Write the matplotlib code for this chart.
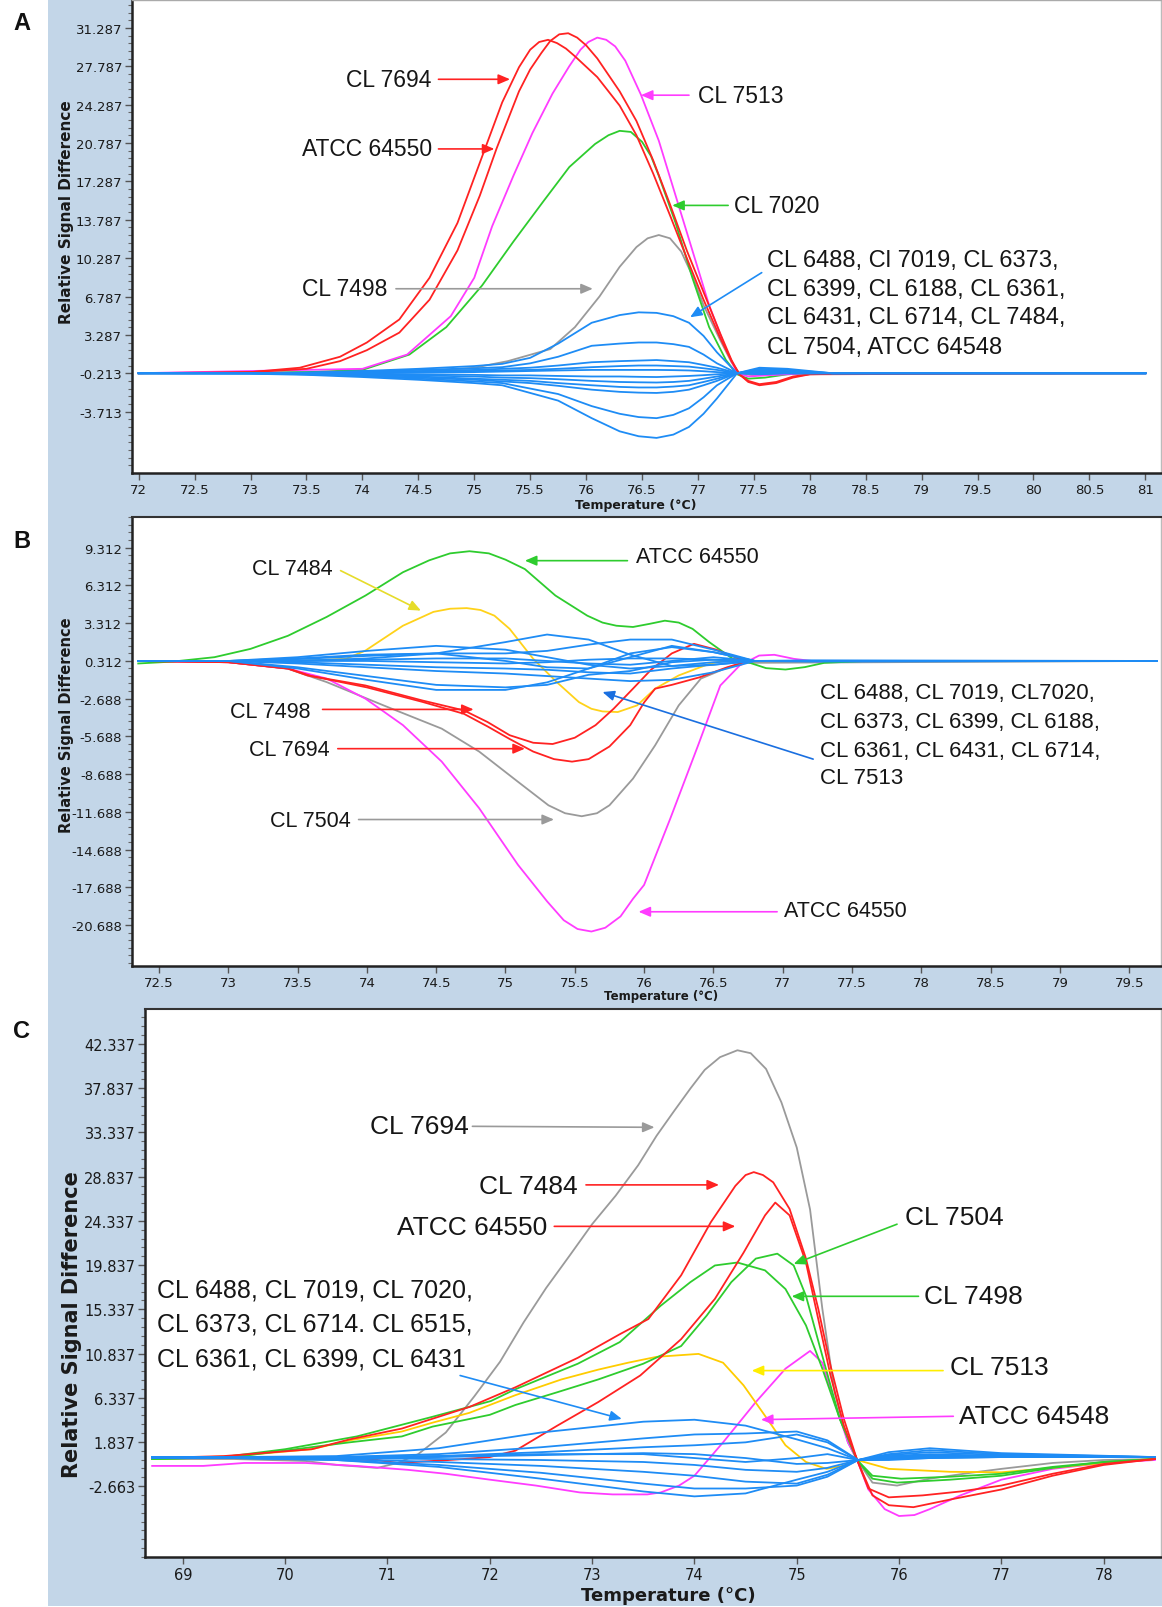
import numpy as np
import matplotlib
matplotlib.use('Agg')
import matplotlib.pyplot as plt
from matplotlib.patches import Rectangle

# Melting curve difference plots, panels A, B, C

W, H = 1162, 1608
BG = '#c3d6e8'
BLUE = '#1e8cf5'
RED = '#ff2222'
MAGENTA = '#ff3cff'
GREEN = '#2ecc2e'
GRAY = '#9a9a9a'
YELLOW = '#ffd21a'
TXT = '#161616'
LBL = ['Liberation Sans', 'DejaVu Sans']

# Panel A ######################################################################
A_RED1_T = [72.0, 72.5, 73.0, 73.44, 73.8, 74.04, 74.33, 74.6, 74.85, 75.05, 75.25, 75.4, 75.5, 75.58, 75.66,
            75.74, 75.82, 75.9, 76.1, 76.3, 76.45, 76.6, 76.75, 76.9, 77.05, 77.2, 77.3, 77.37, 77.45, 77.55,
            77.7, 77.85, 78.0, 78.5, 81.0]
A_RED1_V = [-0.2, -0.2, -0.1, 0.3, 1.3, 2.6, 4.7, 8.5, 13.5, 19.0, 24.5, 27.7, 29.3, 30.0, 30.2,
            29.9, 29.4, 28.7, 26.8, 24.2, 21.5, 18.0, 14.2, 10.3, 6.5, 3.0, 0.9, -0.3, -1.0, -1.3,
            -1.1, -0.6, -0.3, -0.2, -0.2]
A_RED2_T = [72.0, 73.0, 73.5, 73.8, 74.04, 74.33, 74.6, 74.85, 75.05, 75.2, 75.4, 75.5, 75.6, 75.68, 75.76,
            75.84, 75.92, 76.0, 76.1, 76.3, 76.45, 76.6, 76.75, 76.9, 77.05, 77.2, 77.3, 77.37, 77.45, 77.55,
            77.7, 77.85, 78.0, 81.0]
A_RED2_V = [-0.2, -0.1, 0.2, 0.9, 1.9, 3.5, 6.5, 11.0, 16.0, 20.3, 25.5, 27.5, 29.0, 30.1, 30.7,
            30.8, 30.4, 29.7, 28.5, 25.5, 22.8, 19.2, 15.2, 11.0, 7.2, 3.4, 1.0, -0.3, -0.9, -1.2,
            -1.0, -0.5, -0.3, -0.2]
A_MAG_T = [72.0, 74.0, 74.4, 74.79, 75.0, 75.16, 75.35, 75.52, 75.7, 75.85, 75.95, 76.02, 76.1, 76.18, 76.26,
           76.35, 76.49, 76.65, 76.8, 76.95, 77.1, 77.25, 77.35, 77.45, 77.6, 78.0, 81.0]
A_MAG_V = [-0.2, 0.2, 1.5, 5.0, 8.5, 13.2, 17.8, 21.7, 25.3, 27.8, 29.3, 30.0, 30.4, 30.2, 29.6,
           28.3, 25.2, 21.0, 16.0, 11.0, 6.0, 2.0, -0.2, -0.5, -0.4, -0.2, -0.2]
A_GRN_T = [72.0, 73.5, 74.0, 74.42, 74.75, 75.07, 75.35, 75.62, 75.85, 76.08, 76.2, 76.3, 76.4, 76.5, 76.58,
           76.65, 76.8, 76.95, 77.1, 77.25, 77.35, 77.45, 77.6, 77.8, 78.0, 81.0]
A_GRN_V = [-0.2, -0.1, 0.1, 1.5, 4.0, 7.8, 11.8, 15.5, 18.6, 20.7, 21.5, 21.9, 21.8, 20.9, 19.6,
           17.8, 13.5, 8.5, 4.0, 1.0, -0.3, -0.7, -0.6, -0.3, -0.2, -0.2]
A_GRY_T = [72.0, 74.5, 75.0, 75.3, 75.68, 75.9, 76.12, 76.3, 76.45, 76.55, 76.65, 76.75, 76.85, 76.95, 77.05,
           77.2, 77.3, 77.37, 77.5, 77.7, 78.0, 81.0]
A_GRY_V = [-0.2, -0.1, 0.3, 0.9, 2.0, 4.0, 6.8, 9.5, 11.3, 12.1, 12.4, 12.1, 10.9, 8.7, 6.0,
           2.8, 0.8, -0.2, -0.4, -0.2, -0.2, -0.2]
A_BLUE_T = [72.0, 73.0, 73.5, 74.0, 74.5, 75.0, 75.25, 75.5, 75.75, 76.05, 76.3, 76.47, 76.63, 76.78, 76.92,
            77.05, 77.17, 77.35, 77.55, 77.8, 78.2, 81.0]
A_BLUE = [
    [-0.2, -0.2, -0.15, 0.0, 0.2, 0.45, 0.65, 1.2, 2.5, 4.4, 5.1, 5.35, 5.3, 5.0, 4.4, 3.2, 1.7, -0.2, 0.1, 0.0, -0.2, -0.2],
    [-0.2, -0.2, -0.15, -0.05, 0.1, 0.25, 0.35, 0.7, 1.3, 2.3, 2.5, 2.6, 2.6, 2.45, 2.2, 1.5, 0.7, -0.2, 0.0, -0.1, -0.2, -0.2],
    [-0.2, -0.2, -0.2, -0.1, 0.0, 0.1, 0.2, 0.3, 0.5, 0.8, 0.9, 0.95, 1.0, 0.9, 0.8, 0.55, 0.3, -0.2, -0.1, -0.2, -0.2, -0.2],
    [-0.2, -0.2, -0.2, -0.15, -0.1, 0.0, 0.05, 0.1, 0.2, 0.35, 0.45, 0.5, 0.5, 0.45, 0.4, 0.25, 0.1, -0.2, -0.25, -0.2, -0.2, -0.2],
    [-0.2, -0.2, -0.2, -0.2, -0.15, -0.1, -0.05, 0.0, 0.05, 0.1, 0.1, 0.1, 0.1, 0.08, 0.05, -0.02, -0.1, -0.2, 0.3, 0.2, -0.2, -0.2],
    [-0.2, -0.2, -0.2, -0.25, -0.3, -0.35, -0.4, -0.4, -0.45, -0.5, -0.5, -0.53, -0.55, -0.5, -0.45, -0.38, -0.3, -0.2, 0.2, 0.1, -0.2, -0.2],
    [-0.2, -0.2, -0.25, -0.3, -0.4, -0.5, -0.6, -0.65, -0.75, -0.9, -1.0, -1.03, -1.05, -1.0, -0.9, -0.7, -0.5, -0.2, 0.0, -0.1, -0.2, -0.2],
    [-0.2, -0.2, -0.25, -0.35, -0.5, -0.7, -0.8, -0.9, -1.1, -1.3, -1.45, -1.5, -1.5, -1.42, -1.3, -1.0, -0.7, -0.2, -0.3, -0.2, -0.2, -0.2],
    [-0.2, -0.2, -0.3, -0.45, -0.6, -0.8, -0.95, -1.1, -1.35, -1.7, -1.9, -1.97, -2.0, -1.9, -1.7, -1.3, -0.9, -0.2, -0.1, -0.2, -0.2, -0.2],
    [-0.2, -0.2, -0.3, -0.45, -0.7, -0.95, -1.1, -1.6, -2.1, -3.2, -3.9, -4.2, -4.3, -4.0, -3.4, -2.4, -1.3, -0.2, -0.1, -0.2, -0.2, -0.2],
    [-0.2, -0.25, -0.35, -0.55, -0.8, -1.1, -1.3, -2.0, -2.7, -4.3, -5.5, -5.95, -6.1, -5.8, -5.1, -3.9, -2.5, -0.2, 0.0, -0.1, -0.2, -0.2],
]
A_XTICKS = [72, 72.5, 73, 73.5, 74, 74.5, 75, 75.5, 76, 76.5, 77, 77.5, 78, 78.5, 79, 79.5, 80, 80.5, 81]
A_YTICKS = [-3.713, -0.213, 3.287, 6.787, 10.287, 13.787, 17.287, 20.787, 24.287, 27.787, 31.287]
A_BLOCK = ['CL 6488, Cl 7019, CL 6373,', 'CL 6399, CL 6188, CL 6361,',
           'CL 6431, CL 6714, CL 7484,', 'CL 7504, ATCC 64548']

# Panel B ######################################################################
B_GRN_T = [72.35, 72.6, 72.9, 73.16, 73.43, 73.71, 73.99, 74.26, 74.45, 74.6, 74.74, 74.88, 75.0, 75.14, 75.36,
           75.59, 75.7, 75.8, 75.92, 76.04, 76.15, 76.25, 76.35, 76.47, 76.64, 76.75, 76.88, 77.02, 77.16, 77.3,
           77.6, 79.7]
B_GRN_V = [0.1, 0.25, 0.6, 1.26, 2.3, 3.8, 5.5, 7.35, 8.3, 8.85, 9.02, 8.85, 8.35, 7.6, 5.5,
           3.9, 3.35, 3.1, 3.0, 3.25, 3.5, 3.35, 2.85, 1.8, 0.47, 0.2, -0.27, -0.38, -0.19, 0.15,
           0.3, 0.3]
B_YEL_T = [72.35, 73.5, 73.85, 73.99, 74.26, 74.48, 74.6, 74.72, 74.82, 74.92, 75.03, 75.2, 75.37, 75.53, 75.62,
           75.7, 75.81, 75.95, 76.08, 76.25, 76.47, 76.64, 76.8, 79.7]
B_YEL_V = [0.3, 0.3, 0.47, 1.13, 3.1, 4.2, 4.45, 4.5, 4.35, 3.9, 2.85, 0.47, -1.38, -2.97, -3.5,
           -3.71, -3.76, -3.23, -1.9, -0.85, 0.07, 0.47, 0.3, 0.3]
B_RED1_T = [72.35, 73.0, 73.43, 73.57, 73.99, 74.4, 74.7, 74.87, 75.03, 75.2, 75.34, 75.5, 75.65, 75.78,
            75.92, 76.05, 76.2, 76.36, 76.52, 76.68, 76.8, 79.7]
B_RED1_V = [0.3, 0.2, -0.3, -0.85, -1.65, -2.84, -3.63, -4.55, -5.6, -6.2, -6.3, -5.8, -4.8, -3.5,
            -1.9, -0.4, 0.9, 1.66, 1.2, 0.5, 0.3, 0.3]
B_RED2_T = [72.35, 73.0, 73.43, 73.6, 74.0, 74.4, 74.7, 74.87, 75.03, 75.2, 75.35, 75.48, 75.6, 75.75,
            75.9, 76.0, 76.08, 76.2, 76.4, 76.6, 76.75, 79.7]
B_RED2_V = [0.3, 0.2, -0.3, -0.9, -1.8, -2.95, -3.9, -4.9, -5.9, -6.9, -7.5, -7.7, -7.5, -6.5,
            -4.8, -3.0, -1.9, -1.6, -1.0, -0.2, 0.3, 0.3]
B_GRY_T = [72.35, 73.0, 73.43, 73.71, 74.12, 74.54, 74.81, 75.09, 75.31, 75.43, 75.55, 75.66, 75.75, 75.92,
           76.08, 76.25, 76.41, 76.58, 76.72, 79.7]
B_GRY_V = [0.3, 0.2, -0.32, -1.38, -3.23, -5.08, -6.9, -9.3, -11.17, -11.8, -12.04, -11.8, -11.17, -9.05,
           -6.4, -3.23, -1.1, -0.32, 0.15, 0.3]
B_MAG_T = [72.35, 73.0, 73.43, 73.71, 73.99, 74.26, 74.54, 74.81, 75.09, 75.3, 75.42, 75.52, 75.62, 75.72,
           75.83, 75.92, 76.0, 76.19, 76.39, 76.55, 76.69, 76.83, 76.94, 77.08, 77.24, 77.5, 79.7]
B_MAG_V = [0.3, 0.2, -0.3, -1.1, -2.7, -4.8, -7.7, -11.4, -15.9, -18.8, -20.3, -21.0, -21.2, -20.9,
           -20.0, -18.6, -17.5, -12.2, -6.4, -1.65, -0.06, 0.73, 0.79, 0.47, 0.26, 0.3, 0.3]
B_BLUE_T = [72.35, 73.0, 73.5, 74.0, 74.5, 75.0, 75.3, 75.6, 75.9, 76.2, 76.5, 76.8, 77.2, 79.7]
B_BLUE = [
    [0.3, 0.3, 0.6, 1.1, 1.5, 1.2, 0.6, 0.0, -0.3, -0.1, 0.2, 0.3, 0.35, 0.3],
    [0.3, 0.3, 0.3, 0.5, 0.9, 1.8, 2.4, 2.0, 0.8, -0.1, 0.0, 0.3, 0.3, 0.3],
    [0.3, 0.3, 0.5, 0.8, 0.9, 0.9, 1.1, 1.6, 2.0, 2.0, 1.2, 0.3, 0.3, 0.3],
    [0.3, 0.3, 0.45, 0.7, 0.9, 0.3, -0.2, -0.3, 0.6, 1.5, 1.0, 0.3, 0.25, 0.3],
    [0.3, 0.3, -0.3, -1.2, -2.0, -2.0, -1.4, -0.3, 0.9, 1.4, 1.0, 0.3, 0.3, 0.3],
    [0.3, 0.3, -0.2, -0.9, -1.6, -1.8, -1.6, -0.8, -0.5, 0.2, 0.4, 0.3, 0.3, 0.3],
    [0.3, 0.3, 0.2, 0.0, -0.2, -0.3, -0.4, -0.6, -0.7, -0.3, 0.0, 0.3, 0.3, 0.3],
    [0.3, 0.3, 0.1, -0.2, -0.5, -0.7, -0.9, -1.1, -1.3, -1.2, -0.6, 0.3, 0.3, 0.3],
    [0.3, 0.3, 0.35, 0.4, 0.5, 0.5, 0.3, 0.1, 0.0, 0.3, 0.6, 0.3, 0.3, 0.3],
    [0.3, 0.3, 0.3, 0.3, 0.2, 0.1, 0.2, 0.4, 0.5, 0.5, 0.4, 0.3, 0.3, 0.3],
]
B_XTICKS = [72.5, 73, 73.5, 74, 74.5, 75, 75.5, 76, 76.5, 77, 77.5, 78, 78.5, 79, 79.5]
B_YTICKS = [-20.688, -17.688, -14.688, -11.688, -8.688, -5.688, -2.688, 0.312, 3.312, 6.312, 9.312]
B_BLOCK = ['CL 6488, CL 7019, CL7020,', 'CL 6373, CL 6399, CL 6188,',
           'CL 6361, CL 6431, CL 6714,', 'CL 7513']

# Panel C ######################################################################
C_GRY_T = [68.7, 69.5, 70.2, 70.5, 70.9, 71.1, 71.3, 71.57, 71.85, 72.1, 72.33, 72.55, 72.78, 73.0, 73.23,
           73.45, 73.63, 73.8, 73.96, 74.1, 74.25, 74.42, 74.55, 74.7, 74.85, 75.0, 75.13, 75.25, 75.37, 75.5,
           75.59, 75.74, 75.98, 76.3, 76.7, 77.0, 77.5, 78.0, 78.5]
C_GRY_V = [0.1, 0.1, -0.1, -0.5, -0.8, -0.3, 0.6, 2.8, 6.5, 10.0, 14.0, 17.5, 20.8, 24.0, 26.9,
           30.0, 33.0, 35.5, 37.8, 39.7, 41.0, 41.7, 41.4, 39.8, 36.4, 31.8, 25.5, 15.4, 6.9, 1.8,
           0.0, -2.3, -2.6, -1.9, -1.3, -0.9, -0.3, 0.0, 0.1]
C_RED1_T = [68.7, 69.4, 70.26, 70.63, 71.14, 71.44, 71.8, 72.25, 72.86, 73.27, 73.55, 73.87, 74.16, 74.4, 74.5,
            74.58, 74.67, 74.77, 74.93, 75.09, 75.21, 75.33, 75.46, 75.59, 75.7, 75.9, 76.23, 76.6, 77.0, 77.5,
            78.0, 78.5]
C_RED1_V = [0.2, 0.4, 1.1, 2.1, 3.2, 4.2, 5.4, 7.4, 10.4, 12.8, 14.35, 18.8, 24.2, 27.9, 29.0,
            29.3, 29.0, 28.26, 25.55, 20.5, 15.4, 9.6, 4.2, 0.0, -2.9, -3.8, -3.6, -3.2, -2.6, -1.4,
            -0.4, 0.1]
C_RED2_T = [68.7, 70.0, 70.9, 71.1, 71.6, 72.0, 72.25, 72.66, 73.06, 73.47, 73.87, 74.2, 74.48, 74.69, 74.79,
            74.93, 75.09, 75.21, 75.33, 75.46, 75.59, 75.74, 75.9, 76.14, 76.51, 77.0, 77.5, 78.0, 78.5]
C_RED2_V = [0.2, 0.2, 0.0, -0.3, 0.0, 0.3, 0.95, 3.5, 5.9, 8.6, 12.3, 16.4, 21.1, 24.9, 26.2,
            24.9, 20.1, 14.35, 8.6, 3.5, 0.0, -3.6, -4.6, -4.8, -4.0, -3.0, -1.6, -0.5, 0.1]
C_GRN1_T = [68.7, 69.39, 70.0, 70.7, 71.44, 72.01, 72.25, 72.86, 73.27, 73.67, 73.96, 74.2, 74.42, 74.69, 74.89,
            75.09, 75.25, 75.42, 75.59, 75.74, 75.98, 76.5, 77.0, 77.5, 78.0, 78.5]
C_GRN1_V = [0.1, 0.3, 1.1, 2.4, 4.4, 6.0, 7.2, 9.8, 12.0, 15.7, 18.1, 19.8, 20.1, 19.3, 17.4,
            13.7, 9.3, 4.2, 0.0, -1.9, -2.3, -2.0, -1.6, -0.8, -0.2, 0.1]
C_GRN2_T = [68.7, 69.5, 70.63, 71.14, 71.44, 72.0, 72.25, 72.66, 73.06, 73.5, 73.87, 74.12, 74.36, 74.6, 74.81,
            74.97, 75.09, 75.25, 75.42, 75.59, 75.74, 76.02, 76.5, 77.0, 77.5, 78.0, 78.5]
C_GRN2_V = [0.1, 0.3, 1.8, 2.4, 3.4, 4.6, 5.6, 6.9, 8.2, 9.8, 11.6, 14.7, 18.1, 20.5, 21.0,
            19.8, 16.7, 10.6, 4.2, 0.0, -1.6, -1.9, -1.7, -1.4, -0.7, -0.2, 0.1]
C_YEL_T = [68.7, 69.5, 70.26, 70.63, 71.14, 71.44, 71.8, 72.25, 72.7, 73.06, 73.35, 73.63, 74.04, 74.28, 74.48,
           74.69, 74.89, 75.09, 75.29, 75.45, 75.59, 75.9, 76.5, 77.0, 77.5, 78.0, 78.5]
C_YEL_V = [0.1, 0.4, 1.1, 2.0, 2.9, 3.8, 4.8, 6.6, 8.2, 9.2, 9.9, 10.5, 10.8, 9.9, 7.6,
           4.5, 1.5, -0.2, -0.9, -0.6, 0.0, -0.9, -1.2, -1.25, -0.8, -0.3, 0.1]
C_MAG_T = [68.7, 69.2, 69.6, 70.2, 70.69, 71.2, 71.57, 72.0, 72.45, 72.88, 73.2, 73.54, 73.67, 73.85, 74.0,
           74.28, 74.6, 74.89, 75.13, 75.25, 75.37, 75.5, 75.59, 75.7, 75.86, 76.0, 76.15, 76.3, 76.6, 77.0,
           77.5, 78.0, 78.5]
C_MAG_V = [-0.6, -0.6, -0.3, -0.3, -0.6, -1.0, -1.4, -2.0, -2.6, -3.3, -3.5, -3.5, -3.3, -2.6, -1.6,
           1.8, 5.9, 9.3, 11.1, 9.9, 5.9, 1.8, 0.0, -3.0, -5.0, -5.7, -5.6, -5.0, -3.6, -2.0,
           -0.9, -0.3, 0.0]
C_BLUE_T = [68.7, 69.5, 70.5, 71.5, 72.5, 73.5, 74.0, 74.5, 75.0, 75.3, 75.6, 75.9, 76.3, 77.0, 78.5]
C_BLUE = [
    [0.3, 0.3, 0.4, 1.2, 2.8, 3.9, 4.1, 3.5, 2.1, 1.2, 0.0, 0.6, 1.0, 0.6, 0.3],
    [0.3, 0.3, 0.3, 0.6, 1.3, 2.2, 2.6, 2.7, 2.9, 2.0, 0.0, 0.8, 1.2, 0.7, 0.3],
    [0.3, 0.3, 0.3, 0.4, 0.8, 1.3, 1.5, 1.8, 2.6, 1.8, 0.0, 0.5, 0.8, 0.5, 0.3],
    [0.3, 0.3, 0.3, 0.3, 0.5, 0.7, 0.6, 0.2, -0.4, -0.3, 0.0, 0.4, 0.6, 0.4, 0.3],
    [0.3, 0.3, 0.2, 0.1, 0.0, -0.2, -0.5, -1.0, -1.2, -0.8, 0.0, 0.2, 0.4, 0.3, 0.3],
    [0.3, 0.2, 0.1, -0.2, -0.6, -1.2, -1.6, -2.2, -2.4, -1.5, 0.0, 0.1, 0.2, 0.3, 0.3],
    [0.2, 0.2, 0.0, -0.5, -1.3, -2.4, -2.9, -2.9, -2.6, -1.7, 0.0, 0.0, 0.2, 0.3, 0.3],
    [0.2, 0.2, 0.0, -0.7, -1.9, -3.2, -3.7, -3.4, -2.0, -1.2, 0.0, 0.1, 0.3, 0.3, 0.3],
    [0.3, 0.3, 0.3, 0.4, 0.6, 0.6, 0.2, -0.2, 0.2, 0.6, 0.0, 0.3, 0.5, 0.4, 0.3],
]
C_XTICKS = [69, 70, 71, 72, 73, 74, 75, 76, 77, 78]
C_YTICKS = [-2.663, 1.837, 6.337, 10.837, 15.337, 19.837, 24.337, 28.837, 33.337, 37.837, 42.337]
C_BLOCK = ['CL 6488, CL 7019, CL 7020,', 'CL 6373, CL 6714. CL 6515,', 'CL 6361, CL 6399, CL 6431']


fig = plt.figure(figsize=(W / 100, H / 100), dpi=100)
fig.patches.append(Rectangle((48 / W, 1 / H), 1 - 48 / W, 1 - 1 / H, transform=fig.transFigure,
                             facecolor=BG, edgecolor='none', zorder=-10))


def box(l, t, r, b):
    return fig.add_axes([l / W, 1 - b / H, (r - l) / W, (b - t) / H])


def ftext(x, y, s, **kw):
    fig.text(x / W, 1 - y / H, s, **kw)


def style(ax, xlim, ylim, xt, yt, minor_step, tsize, top_dark):
    ax.set_xlim(xlim)
    ax.set_ylim(ylim)
    ax.set_xticks(xt)
    ax.set_xticklabels(['%g' % v for v in xt])
    ax.set_yticks(yt)
    ax.set_yticklabels(['%.3f' % v for v in yt])
    minors = np.arange(yt[0] - 20 * minor_step, ylim[1], minor_step)
    ax.set_yticks([m for m in minors if ylim[0] < m < ylim[1]], minor=True)
    ax.tick_params(axis='both', which='major', direction='out', length=5, width=1,
                   color='#555555', labelcolor='#1a1a1a', labelsize=tsize, pad=2)
    ax.tick_params(axis='y', which='minor', direction='out', length=3, width=0.8, color='#666666')
    for s in ('left', 'bottom'):
        ax.spines[s].set_linewidth(1.8)
        ax.spines[s].set_color('#222222')
    ax.spines['right'].set_color('#bbbbbb')
    ax.spines['right'].set_linewidth(1)
    if top_dark:
        ax.spines['top'].set_color('#333333')
        ax.spines['top'].set_linewidth(1.5)
    else:
        ax.spines['top'].set_color('#aaaaaa')
        ax.spines['top'].set_linewidth(1)


def arrow(ax, x0, y0, x1, y1, color):
    ax.annotate('', xy=(x1, y1), xytext=(x0, y0),
                arrowprops=dict(arrowstyle='-|>,head_length=0.7,head_width=0.3', color=color, lw=1.2,
                                shrinkA=0, shrinkB=0, mutation_scale=10))


def note(ax, text, tx, ty, ha, x0, y0, x1, y1, color, size):
    arrow(ax, x0, y0, x1, y1, color)
    ax.text(tx, ty, text, ha=ha, va='center', fontsize=size, color=TXT, family=LBL)


# Panel A
axA = box(132, 1, 1161, 474)
style(axA, (71.94, 81.14), (-9.3, 33.83), A_XTICKS, A_YTICKS, 0.7, 9.5, False)
axA.plot(A_GRY_T, A_GRY_V, color=GRAY, lw=1.3, zorder=3)
axA.plot(A_GRN_T, A_GRN_V, color=GREEN, lw=1.3, zorder=3)
axA.plot(A_MAG_T, A_MAG_V, color=MAGENTA, lw=1.3, zorder=3)
axA.plot(A_RED2_T, A_RED2_V, color=RED, lw=1.3, zorder=3)
axA.plot(A_RED1_T, A_RED1_V, color=RED, lw=1.3, zorder=3)
for vals in A_BLUE:
    axA.plot(A_BLUE_T, vals, color=BLUE, lw=1.3, zorder=4)

note(axA, 'CL 7694', 74.62, 26.6, 'right', 74.68, 26.6, 75.32, 26.6, RED, 16.5)
note(axA, 'ATCC 64550', 74.62, 20.25, 'right', 74.68, 20.25, 75.18, 20.25, RED, 16.5)
note(axA, 'CL 7513', 77.0, 25.15, 'left', 76.92, 25.15, 76.49, 25.15, MAGENTA, 16.5)
note(axA, 'CL 7020', 77.32, 15.1, 'left', 77.27, 15.1, 76.77, 15.1, GREEN, 16.5)
note(axA, 'CL 7498', 74.22, 7.5, 'right', 74.3, 7.5, 76.06, 7.5, GRAY, 16.5)
arrow(axA, 77.57, 8.97, 76.93, 4.9, BLUE)
for line, v in zip(A_BLOCK, [10.15, 7.5, 4.9, 2.2]):
    axA.text(77.62, v, line, ha='left', va='center', fontsize=17, color=TXT, family=LBL)

# Panel B
axB = box(132, 518, 1161, 967)
style(axB, (72.305, 79.73), (-23.94, 11.74), B_XTICKS, B_YTICKS, 0.6, 9.5, True)
axB.plot(B_GRY_T, B_GRY_V, color=GRAY, lw=1.3, zorder=3)
axB.plot(B_MAG_T, B_MAG_V, color=MAGENTA, lw=1.3, zorder=3)
axB.plot(B_YEL_T, B_YEL_V, color=YELLOW, lw=1.3, zorder=3)
axB.plot(B_GRN_T, B_GRN_V, color=GREEN, lw=1.3, zorder=3)
axB.plot(B_RED2_T, B_RED2_V, color=RED, lw=1.3, zorder=3)
axB.plot(B_RED1_T, B_RED1_V, color=RED, lw=1.3, zorder=3)
for vals in B_BLUE:
    axB.plot(B_BLUE_T, vals, color=BLUE, lw=1.3, zorder=4)

note(axB, 'ATCC 64550', 75.945, 8.62, 'left', 75.88, 8.27, 75.14, 8.27, GREEN, 15.5)
note(axB, 'CL 7484', 73.75, 7.67, 'right', 73.81, 7.48, 74.39, 4.3, '#e6dc2a', 15.5)
note(axB, 'CL 7498', 73.59, -3.71, 'right', 73.68, -3.55, 74.77, -3.55, RED, 15.5)
note(axB, 'CL 7694', 73.73, -6.72, 'right', 73.79, -6.67, 75.14, -6.67, RED, 15.5)
note(axB, 'CL 7504', 73.88, -12.36, 'right', 73.94, -12.3, 75.35, -12.3, GRAY, 15.5)
note(axB, 'ATCC 64550', 77.01, -19.5, 'left', 76.96, -19.63, 75.96, -19.63, MAGENTA, 15.5)
arrow(axB, 77.22, -7.5, 75.7, -2.17, '#1a6fe0')
for line, v in zip(B_BLOCK, [-2.2, -4.5, -6.8, -9.0]):
    axB.text(77.27, v, line, ha='left', va='center', fontsize=16, color=TXT, family=LBL)

# Panel C
axC = box(145, 1010, 1161, 1558)
style(axC, (68.63, 78.56), (-9.87, 45.9), C_XTICKS, C_YTICKS, 0.9, 10.5, True)
axC.plot(C_GRY_T, C_GRY_V, color=GRAY, lw=1.3, zorder=2)
axC.plot(C_MAG_T, C_MAG_V, color=MAGENTA, lw=1.3, zorder=2)
axC.plot(C_YEL_T, C_YEL_V, color='#ffcc00', lw=1.3, zorder=2)
axC.plot(C_GRN1_T, C_GRN1_V, color=GREEN, lw=1.3, zorder=2)
axC.plot(C_GRN2_T, C_GRN2_V, color=GREEN, lw=1.3, zorder=2)
axC.plot(C_RED2_T, C_RED2_V, color=RED, lw=1.3, zorder=2)
axC.plot(C_RED1_T, C_RED1_V, color=RED, lw=1.3, zorder=2)
for vals in C_BLUE:
    axC.plot(C_BLUE_T, vals, color=BLUE, lw=1.3, zorder=3)

note(axC, 'CL 7694', 71.79, 34.03, 'right', 71.83, 33.96, 73.61, 33.86, GRAY, 19)
note(axC, 'CL 7484', 72.86, 27.9, 'right', 72.94, 28.0, 74.24, 28.0, RED, 19)
note(axC, 'ATCC 64550', 72.56, 23.68, 'right', 72.63, 23.78, 74.4, 23.78, RED, 19)
note(axC, 'CL 7504', 76.06, 24.7, 'left', 75.98, 24.0, 74.97, 19.95, GREEN, 19)
note(axC, 'CL 7498', 76.24, 16.73, 'left', 76.19, 16.66, 74.95, 16.66, GREEN, 19)
note(axC, 'CL 7513', 76.5, 9.43, 'left', 76.43, 9.1, 74.56, 9.1, '#ffee00', 19)
note(axC, 'ATCC 64548', 76.59, 4.52, 'left', 76.53, 4.45, 74.65, 4.11, MAGENTA, 19)
arrow(axC, 71.71, 8.6, 73.29, 4.18, BLUE)
for line, v in zip(C_BLOCK, [17.4, 13.85, 10.3]):
    axC.text(68.75, v, line, ha='left', va='center', fontsize=18, color=TXT, family=LBL)

# Axis titles and panel letters
ftext(66, 212, 'Relative Signal Difference', rotation=90, ha='center', va='center',
      fontsize=11, fontweight='bold', color='#1a1a1a')
ftext(66, 725, 'Relative Signal Difference', rotation=90, ha='center', va='center',
      fontsize=10.5, fontweight='bold', color='#1a1a1a')
ftext(72, 1325, 'Relative Signal Difference', rotation=90, ha='center', va='center',
      fontsize=15, fontweight='bold', color='#1a1a1a')
ftext(636, 505, 'Temperature (°C)', ha='center', va='center', fontsize=9, fontweight='bold', color='#1a1a1a')
ftext(661, 997, 'Temperature (°C)', ha='center', va='center', fontsize=8.5, fontweight='bold', color='#1a1a1a')
ftext(668, 1596, 'Temperature (°C)', ha='center', va='center', fontsize=13, fontweight='bold', color='#1a1a1a')
for letter, y in (('A', 23), ('B', 542), ('C', 1032)):
    ftext(22, y, letter, ha='center', va='center', fontsize=17, fontweight='bold', family=LBL, color='#111111')

fig.savefig('out.png', dpi=100, facecolor='white')
